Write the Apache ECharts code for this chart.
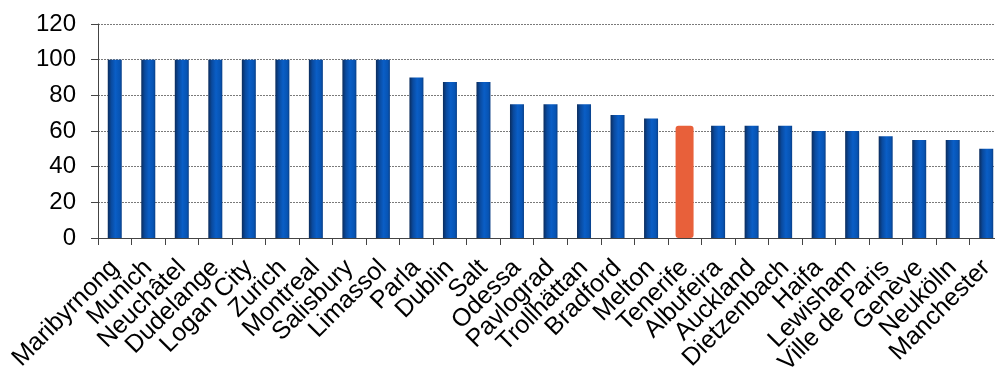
<!DOCTYPE html>
<html>
<head>
<meta charset="utf-8">
<script src="https://cdn.jsdelivr.net/npm/echarts@6/dist/echarts.min.js"></script>
<style>
  html, body { margin: 0; padding: 0; background: #fff; }
  #chart { width: 995px; height: 370px; }
</style>
</head>
<body>
<div id="chart"></div>
<script>
// City names along the category axis
const cities = [
  'Maribyrnong', 'Munich', 'Neuchâtel', 'Dudelange', 'Logan City', 'Zurich',
  'Montreal', 'Salisbury', 'Limassol', 'Parla', 'Dublin', 'Salt', 'Odessa',
  'Pavlograd', 'Trollhättan', 'Bradford', 'Melton', 'Tenerife', 'Albufeira',
  'Auckland', 'Dietzenbach', 'Haifa', 'Lewisham', 'Ville de Paris', 'Genève',
  'Neukölln', 'Manchester'
];

// Score per city
const scores = [
  100, 100, 100, 100, 100, 100, 100, 100, 100, 90, 87.5, 87.5, 75,
  75, 75, 69, 67, 63, 63, 63, 63, 60, 60, 57, 55, 55, 50
];

// City shown in the accent colour
const highlighted = 'Tenerife';

// Value axis range
const yMin = 0;
const yMax = 120;
const yStep = 20;

const blueGradient = new echarts.graphic.LinearGradient(0, 0, 1, 0, [
  { offset: 0, color: '#0b2c5c' },
  { offset: 0.25, color: '#0a4a9e' },
  { offset: 0.55, color: '#0a5ec6' },
  { offset: 0.85, color: '#0754b4' },
  { offset: 1, color: '#0a3f86' }
]);

// regular bars, with a gap where the highlighted city goes
const baseData = scores.map((v, i) => (cities[i] === highlighted ? null : v));
// the highlighted bar alone, drawn wider on its own overlay axis
const accentData = scores.map((v, i) => (cities[i] === highlighted ? v : null));

const labelFont = 'Liberation Sans, Arial, sans-serif';

const chart = echarts.init(document.getElementById('chart'), null, { renderer: 'canvas' });

chart.setOption({
  animation: false,
  backgroundColor: '#ffffff',
  // plot area runs slightly past the right edge of the canvas
  grid: {
    left: 98, right: -8, top: 24, bottom: 132,
    containLabel: false,
    outerBoundsMode: 'none'
  },
  xAxis: [{
    type: 'category',
    data: cities,
    z: 5,
    axisLine: { show: true, lineStyle: { color: '#444', width: 1 } },
    axisTick: { show: true, length: 7, lineStyle: { color: '#444' } },
    axisLabel: {
      interval: 0,
      rotate: 45,
      margin: 26,
      color: '#000',
      fontFamily: labelFont,
      fontSize: 25
    },
    splitLine: { show: false }
  }, {
    type: 'category',
    data: cities,
    position: 'bottom',
    show: false
  }],
  yAxis: {
    type: 'value',
    min: yMin,
    max: yMax,
    interval: yStep,
    axisLine: { show: true, lineStyle: { color: '#444', width: 1 } },
    axisTick: { show: true, inside: false, length: 7, lineStyle: { color: '#444' } },
    axisLabel: {
      margin: 22,
      color: '#000',
      fontFamily: labelFont,
      fontSize: 24
    },
    splitLine: {
      show: true,
      lineStyle: { color: '#7a7a7a', width: 1, type: [2, 1] }
    }
  },
  series: [{
    type: 'bar',
    xAxisIndex: 0,
    data: baseData,
    barWidth: 14,
    itemStyle: { color: blueGradient }
  }, {
    type: 'bar',
    xAxisIndex: 1,
    data: accentData,
    barWidth: 18,
    z: 1,
    itemStyle: { color: '#e8603a', borderRadius: 3 }
  }]
});
</script>
</body>
</html>
